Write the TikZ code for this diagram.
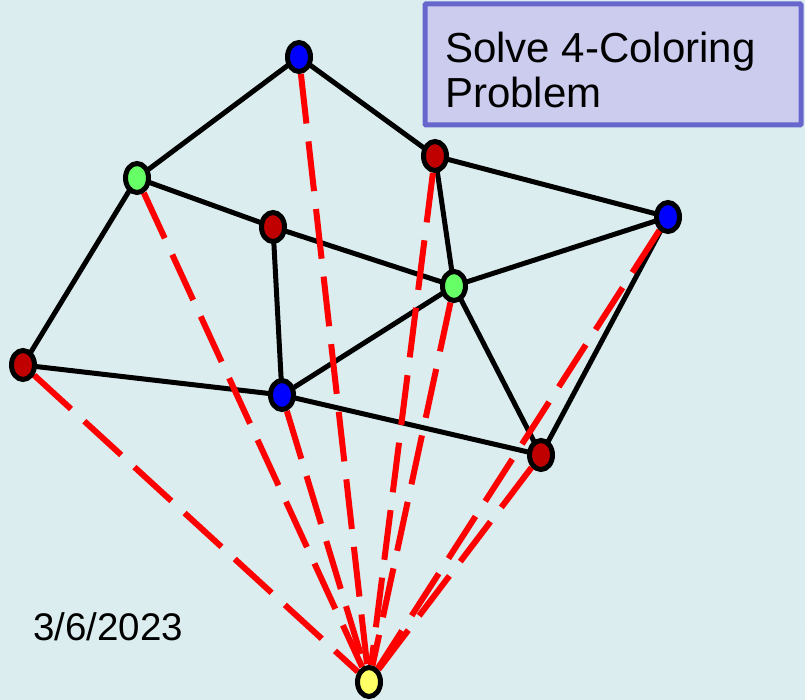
\documentclass[tikz,border=0pt]{standalone}
\usepackage{fontspec}
\setmainfont{Liberation Sans}
\usetikzlibrary{shapes.geometric}
\definecolor{bgc}{HTML}{DBEDEF}
\definecolor{nred}{HTML}{C00000}
\definecolor{nblue}{HTML}{0000FF}
\definecolor{ngreen}{HTML}{66FF66}
\definecolor{nyellow}{HTML}{FFFF66}
\definecolor{boxfill}{HTML}{CCCCEE}
\definecolor{boxline}{HTML}{6666CC}
\pgfdeclarelayer{bglayer}
\pgfdeclarelayer{edgelayer}
\pgfsetlayers{bglayer,edgelayer,main}
\begin{document}
\begin{tikzpicture}[x=1pt,y=-1pt,
  vtx/.style={ellipse,draw=black,line width=5pt,inner sep=0pt,minimum width=23pt,minimum height=29pt},
  edge/.style={draw=black,line width=5pt},
  dashedge/.style={draw=red,line width=6pt,dash pattern=on 50pt off 18pt},
  lbl/.style={inner sep=0pt,anchor=base west}]
\useasboundingbox (0,0) rectangle (805,700);
\begin{pgfonlayer}{bglayer}
\fill[bgc] (0,0) rectangle (805,700);
% title box
\draw[boxline,fill=boxfill,line width=5pt,rounded corners=1pt] (425,4) rectangle (801,125);
\end{pgfonlayer}
\node[lbl,font=\fontsize{42}{48}\selectfont] (t1) at (445,63) {Solve 4-Coloring};
\node[lbl,font=\fontsize{42}{48}\selectfont] (t2) at (445,108) {Problem};
% footer
\node[lbl,font=\fontsize{38.5}{44}\selectfont] (date) at (33,640) {3/6/2023};
\node[lbl,font=\fontsize{38.5}{44}\selectfont] (cut) at (803,640) {C};
% vertices
\node[vtx,fill=nblue]   (A) at (299,57) {};
\node[vtx,fill=ngreen]  (B) at (137,178) {};
\node[vtx,fill=nred]    (C) at (435,156) {};
\node[vtx,fill=nblue]   (D) at (668,217) {};
\node[vtx,fill=nred]    (E) at (273,227) {};
\node[vtx,fill=ngreen]  (F) at (454,286) {};
\node[vtx,fill=nred]    (G) at (23,365) {};
\node[vtx,fill=nblue]   (H) at (282,395) {};
\node[vtx,fill=nred]    (I) at (541,455) {};
\node[vtx,fill=nyellow] (Y) at (369,682) {};
\begin{pgfonlayer}{edgelayer}
\foreach \a/\b in {A/B,A/C,B/E,B/G,E/F,E/H,C/F,C/D,F/D,F/H,F/I,G/H,H/I,D/I}
  \draw[edge] (\a.center) -- (\b.center);
\foreach \a in {G,B,H,A,C,F,D,I}
  \draw[dashedge] (\a) -- (Y);
\end{pgfonlayer}
\end{tikzpicture}
\end{document}
